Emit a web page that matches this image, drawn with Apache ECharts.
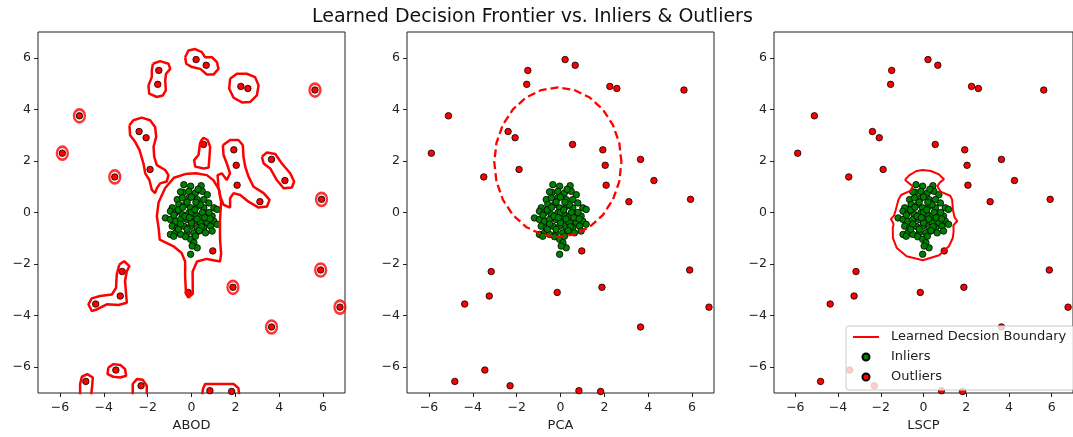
<!DOCTYPE html>
<html>
<head>
<meta charset="utf-8">
<script src="https://cdn.jsdelivr.net/npm/echarts@6/dist/echarts.min.js"></script>
<style>
html,body{margin:0;padding:0;background:#fff}
#main{width:1073px;height:437px}
</style>
</head>
<body>
<div id="main"></div>
<script>
var panelNames = ['ABOD', 'PCA', 'LSCP'];
var tickValues = [-6, -4, -2, 0, 2, 4, 6];

var inliers = [
  [-0.35,1.08],[-0.04,1.02],[0.44,1.04],[-0.38,0.78],[-0.12,0.82],[0.18,0.76],[0.49,0.82],[0.72,0.69],
  [-0.65,0.50],[-0.42,0.57],[-0.12,0.57],[0.26,0.50],[0.56,0.50],[0.79,0.37],
  [-0.88,0.18],[-0.58,0.31],[-0.27,0.31],[-0.04,0.18],[0.26,0.24],[0.56,0.18],[1.02,0.18],[1.17,0.12],
  [-1.19,-0.21],[-0.96,0.05],[-0.73,-0.01],[-0.42,-0.08],[-0.12,-0.01],[0.18,-0.08],[0.41,-0.14],[0.72,-0.08],[0.94,-0.14],
  [-0.96,-0.27],[-0.73,-0.34],[-0.50,-0.27],[-0.20,-0.27],[0.11,-0.34],[0.41,-0.40],[0.72,-0.40],[1.02,-0.34],
  [-0.88,-0.53],[-0.65,-0.59],[-0.35,-0.53],[-0.04,-0.53],[0.26,-0.59],[0.56,-0.59],[0.87,-0.53],[1.17,-0.46],
  [-0.96,-0.85],[-0.73,-0.79],[-0.50,-0.85],[-0.20,-0.79],[0.11,-0.79],[0.34,-0.72],[0.64,-0.79],[0.94,-0.72],
  [-0.81,-0.92],[-0.27,-0.94],[-0.04,-1.04],[0.18,-0.92],[0.11,-1.17],[0.26,-1.37],[0.03,-1.30],[-0.04,-1.62],
  [-0.5,0.8],[0.0,0.6],[0.3,0.9],[-0.2,0.4],[0.4,0.3],[-0.6,0.1],[0.0,0.0],[0.5,0.0],
  [-0.3,-0.15],[0.25,-0.25],[-0.5,-0.45],[0.0,-0.4],[0.45,-0.55],[-0.2,-0.65],[0.6,-0.2],[0.8,0.0],
  [-0.8,-0.1],[0.2,0.4],[-0.4,0.2],[0.85,-0.25],[0.15,0.1],[-0.1,-0.2],[0.35,-0.7],[-0.6,-0.65]
];

var outliers = [
  [0.21,5.93],[0.67,5.71],[-1.49,5.51],[-1.54,4.97],[2.25,4.89],[2.57,4.81],[5.63,4.75],[-5.11,3.75],
  [-2.39,3.14],[-2.07,2.90],[0.55,2.64],[1.93,2.43],[-5.89,2.30],[3.65,2.06],[2.04,1.83],[-1.89,1.67],
  [-3.50,1.38],[4.26,1.24],[2.08,1.06],[5.93,0.51],[3.12,0.42],[0.97,-1.49],[-3.16,-2.29],[5.89,-2.23],
  [1.89,-2.90],[-0.15,-3.10],[-3.25,-3.24],[-4.37,-3.55],[6.77,-3.67],[3.65,-4.44],[-3.45,-6.11],
  [-4.82,-6.55],[-2.30,-6.72],[0.84,-6.91],[1.83,-6.94]
];

// ABOD boundary: closed loops
var abodContours = [
  [[-1.76,5.77],[-1.43,5.87],[-1.05,5.77],[-0.97,5.57],[-1.16,5.38],[-1.20,5.12],[-1.17,4.74],[-1.31,4.54],
   [-1.58,4.48],[-1.93,4.61],[-1.96,4.93],[-1.81,5.25],[-1.81,5.51],[-1.76,5.77]],
  [[-0.29,6.02],[-0.14,6.28],[0.17,6.34],[0.47,6.22],[0.62,6.02],[0.93,6.02],[1.16,5.83],[1.23,5.57],
   [1.00,5.35],[0.70,5.35],[0.40,5.57],[0.02,5.64],[-0.24,5.77],[-0.29,6.02]],
  [[1.76,5.19],[2.07,5.38],[2.52,5.38],[2.90,5.25],[3.06,4.93],[2.98,4.54],[2.68,4.29],[2.30,4.27],
   [1.92,4.45],[1.72,4.80],[1.76,5.19]],
  [[-2.83,3.38],[-2.65,3.58],[-2.27,3.68],[-1.89,3.58],[-1.66,3.32],[-1.61,2.93],[-1.73,2.55],[-1.70,2.16],
   [-1.58,1.84],[-1.20,1.65],[-1.05,1.45],[-1.13,1.20],[-1.43,1.13],[-1.58,0.94],[-1.66,0.75],[-1.81,0.88],
   [-1.92,1.26],[-2.11,1.52],[-2.19,1.90],[-2.37,2.42],[-2.57,2.74],[-2.80,3.00],[-2.83,3.38]],
  [[0.40,2.74],[0.55,2.90],[0.73,2.81],[0.85,2.55],[0.82,2.16],[0.78,1.74],[0.55,1.71],[0.17,1.78],
   [0.12,2.03],[0.32,2.23],[0.37,2.55],[0.40,2.74]],
  [[1.43,2.61],[1.76,2.81],[2.14,2.81],[2.34,2.61],[2.37,2.16],[2.45,1.78],[2.60,1.39],[2.83,1.00],
   [3.29,0.75],[3.56,0.49],[3.44,0.23],[3.06,0.19],[2.60,0.42],[2.22,0.68],[1.92,0.75],[1.76,0.55],
   [1.76,0.19],[1.46,0.30],[1.31,0.62],[1.23,1.00],[1.19,1.45],[1.38,1.52],[1.61,1.26],[1.76,1.52],
   [1.61,1.90],[1.46,2.23],[1.43,2.61]],
  [[3.21,2.16],[3.44,2.33],[3.82,2.27],[4.12,1.90],[4.50,1.52],[4.68,1.20],[4.58,0.97],[4.20,0.94],
   [3.89,1.26],[3.59,1.71],[3.29,1.90],[3.21,2.16]],
  [[-0.29,1.49],[0.20,1.52],[0.70,1.45],[1.00,1.25],[1.25,0.90],[1.35,0.40],[1.30,-0.30],[1.30,-1.00],
   [1.35,-1.60],[1.30,-1.90],[0.70,-1.80],[0.25,-1.90],[0.05,-2.30],[0.06,-3.15],[-0.14,-3.30],[-0.25,-3.15],
   [-0.29,-2.50],[-0.29,-1.90],[-0.45,-1.57],[-0.82,-1.31],[-1.45,-1.05],[-1.50,-0.60],[-1.58,-0.15],
   [-1.50,0.40],[-1.20,0.95],[-0.80,1.35],[-0.29,1.49]],
  [[-3.29,-2.02],[-3.07,-1.89],[-2.83,-2.08],[-2.95,-2.28],[-3.03,-2.66],[-2.98,-3.18],[-2.95,-3.50],
   [-3.33,-3.59],[-3.86,-3.56],[-4.32,-3.76],[-4.55,-3.82],[-4.70,-3.56],[-4.55,-3.33],[-4.17,-3.24],
   [-3.63,-3.18],[-3.44,-2.92],[-3.41,-2.41],[-3.29,-2.02]],
  [[-3.79,-6.01],[-3.56,-5.88],[-3.25,-5.91],[-3.03,-6.07],[-2.98,-6.33],[-3.25,-6.40],[-3.56,-6.37],
   [-3.83,-6.27],[-3.79,-6.01]],
  [[-5.08,-7.20],[-5.08,-6.65],[-5.00,-6.37],[-4.75,-6.27],[-4.50,-6.40],[-4.53,-6.72],[-4.59,-7.20]],
  [[-2.68,-7.20],[-2.68,-6.65],[-2.49,-6.46],[-2.22,-6.49],[-2.04,-6.72],[-2.04,-7.20]],
  [[0.47,-7.20],[0.52,-6.85],[0.62,-6.65],[1.92,-6.65],[2.14,-6.81],[2.19,-7.20]]
];

// isolated points that ABOD rings with a small loop
var abodRings = [
  [5.63,4.75],[-5.11,3.75],[-5.89,2.30],[-3.50,1.38],[5.93,0.51],[1.89,-2.90],[5.89,-2.23],[6.77,-3.67],[3.65,-4.44]
];

var pcaContour = [
  [2.78,1.95],[2.68,2.70],[2.39,3.40],[1.93,4.00],[1.33,4.46],[0.63,4.75],[-0.12,4.85],[-0.87,4.75],
  [-1.57,4.46],[-2.17,4.00],[-2.63,3.40],[-2.92,2.70],[-3.02,1.95],[-2.92,1.20],[-2.63,0.50],[-2.17,-0.10],
  [-1.57,-0.56],[-0.87,-0.85],[-0.12,-0.95],[0.63,-0.85],[1.33,-0.56],[1.93,-0.10],[2.39,0.50],[2.68,1.20],
  [2.78,1.95]
];

var lscpContour = [
  [-0.87,1.26],[-0.67,1.44],[-0.33,1.61],[-0.03,1.65],[0.35,1.61],[0.70,1.49],[0.96,1.29],[0.76,1.16],
  [0.65,1.02],[0.80,0.81],[1.25,0.65],[1.34,0.50],[1.38,0.10],[1.45,-0.18],[1.58,-0.33],[1.40,-0.50],
  [1.41,-0.73],[1.37,-0.99],[1.19,-1.31],[0.73,-1.66],[-0.03,-1.85],[-0.79,-1.70],[-1.25,-1.38],
  [-1.43,-0.99],[-1.44,-0.60],[-1.40,-0.45],[-1.52,-0.25],[-1.38,-0.12],[-1.30,0.10],[-1.17,0.50],
  [-1.05,0.68],[-0.60,0.85],[-0.50,1.02],[-0.72,1.16],[-0.87,1.26]
];

var FONT = "'DejaVu Sans', sans-serif";
var gridLeft = [38, 407, 774];
var BOUNDARY = 'Learned Decsion Boundary';

function minusFmt(v){
  return String(v).replace('-', '\u2212');
}

var grids = [], xAxes = [], yAxes = [], series = [];
for (var i = 0; i < 3; ++i) {
  grids.push({left: gridLeft[i], top: 32, width: 307, height: 364, show: true,
    borderColor: '#222', borderWidth: 1, backgroundColor: 'transparent'});
  xAxes.push({type: 'value', gridIndex: i, min: -7, max: 7, position: 'bottom',
    name: panelNames[i], nameLocation: 'middle', nameGap: 26,
    nameTextStyle: {fontFamily: FONT, fontSize: 13, color: '#222'},
    axisLine: {show: false, onZero: false}, splitLine: {show: false},
    axisTick: {show: true, length: 4, customValues: tickValues, lineStyle: {color: '#222'}},
    axisLabel: {customValues: tickValues, margin: 8, fontFamily: FONT, fontSize: 12.5, color: '#222', formatter: minusFmt}});
  yAxes.push({type: 'value', gridIndex: i, min: -7, max: 7, position: 'left',
    axisLine: {show: false, onZero: false}, splitLine: {show: false},
    axisTick: {show: true, length: 4, customValues: tickValues, lineStyle: {color: '#222'}},
    axisLabel: {customValues: tickValues, margin: 7, fontFamily: FONT, fontSize: 12.5, color: '#222', formatter: minusFmt}});
}

function lineLoop(idx, pts, width, dashed){
  return {name: BOUNDARY, type: 'line', xAxisIndex: idx, yAxisIndex: idx, data: pts,
    symbol: 'none', showSymbol: false, clip: true, silent: true, z: 5,
    itemStyle: {color: '#ff0000'},
    lineStyle: {color: '#ff0000', width: width, type: dashed ? [8, 4] : 'solid'}};
}

for (var k = 0; k < abodContours.length; ++k) {
  series.push(lineLoop(0, abodContours[k], 2.5, false));
}
series.push({name: 'ABOD rings', type: 'scatter', xAxisIndex: 0, yAxisIndex: 0, data: abodRings,
  symbol: 'circle', symbolSize: [11, 13], silent: true, z: 5,
  itemStyle: {color: 'rgba(0,0,0,0)', borderColor: '#ff0000', borderWidth: 2.5}});
series.push(lineLoop(1, pcaContour, 2.3, true));
series.push(lineLoop(2, lscpContour, 2, false));

for (var j = 0; j < 3; ++j) {
  series.push({name: 'Inliers', type: 'scatter', xAxisIndex: j, yAxisIndex: j, data: inliers,
    symbolSize: 6.5, z: 3, itemStyle: {color: '#008000', borderColor: '#000', borderWidth: 0.8, opacity: 1}});
  series.push({name: 'Outliers', type: 'scatter', xAxisIndex: j, yAxisIndex: j, data: outliers,
    symbolSize: 6.5, z: 3, itemStyle: {color: '#ff0000', borderColor: '#000', borderWidth: 0.8, opacity: 1}});
}

var option = {
  animation: false,
  backgroundColor: '#fff',
  title: {text: 'Learned Decision Frontier vs. Inliers & Outliers', left: 312, top: 8, padding: 0,
    textStyle: {fontFamily: FONT, fontSize: 19, fontWeight: 'normal', color: '#111'}},
  legend: {
    orient: 'vertical', left: 846, top: 326,
    data: [
      {name: BOUNDARY, itemStyle: {opacity: 0}},
      {name: 'Inliers', icon: 'circle'},
      {name: 'Outliers', icon: 'circle'}
    ],
    itemWidth: 26, itemHeight: 7, itemGap: 6,
    padding: [4, 8, 6, 6],
    backgroundColor: 'rgba(255,255,255,0.8)', borderColor: '#ccc', borderWidth: 1, borderRadius: 3,
    textStyle: {fontFamily: FONT, fontSize: 13, color: '#222', lineHeight: 14, padding: [0, 0, 0, 7]},
    selectedMode: false
  },
  grid: grids,
  xAxis: xAxes,
  yAxis: yAxes,
  series: series
};

var myChart = echarts.init(document.getElementById('main'));
myChart.setOption(option);
</script>
</body>
</html>
